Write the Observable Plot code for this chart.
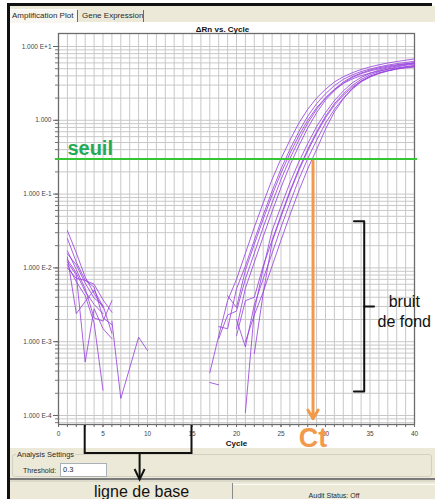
<!DOCTYPE html>
<html>
<head>
<meta charset="utf-8">
<script src="https://cdn.jsdelivr.net/npm/d3@7"></script>
<script src="https://cdn.jsdelivr.net/npm/@observablehq/plot@0.6"></script>
<style>
  html, body { margin: 0; padding: 0; }
  body { width: 435px; height: 499px; position: relative; overflow: hidden; background: #fff;
         font-family: "Liberation Sans", Arial, sans-serif; color: #222; }
  .a { position: absolute; }
  .ui { font-size: 8px; line-height: 8px; white-space: nowrap; color: #2a2a2a; }
  #chart { position: absolute; left: 0; top: 0; z-index: 5; }
</style>
</head>
<body>
<!-- window chrome -->
<div class="a" style="left:7px;top:3px;width:425px;height:3px;background:#111"></div>
<div class="a" style="left:7px;top:3px;width:3px;height:496px;background:#111"></div>
<div class="a" style="left:10px;top:6px;width:425px;height:16px;background:#ece9d8"></div>
<div class="a" style="left:10px;top:9px;width:67px;height:13px;background:#f7f6f0;border-top:1px solid #fff"></div>
<div class="a ui" style="left:12px;top:12px;">Amplification Plot</div>
<div class="a" style="left:77px;top:10px;width:1px;height:12px;background:#6a6a6a"></div>
<div class="a ui" style="left:82px;top:12px;">Gene Expression</div>
<div class="a" style="left:143px;top:10px;width:1px;height:12px;background:#6a6a6a"></div>
<div class="a" style="left:10px;top:448px;width:425px;height:51px;background:#ece9d8"></div>
<div class="a" style="left:12px;top:454px;width:418px;height:21px;border:1px solid #d2d0c0;border-radius:3px"></div>
<div class="a ui" style="left:16px;top:451px;font-size:7.5px;background:#ece9d8;padding:0 1px">Analysis Settings</div>
<div class="a ui" style="left:23px;top:467px;font-size:7px;">Threshold:</div>
<div class="a ui" style="left:60px;top:463px;width:43px;height:12px;background:#fff;border:1px solid #a9b0b6;font-size:7.5px;line-height:12px;padding-left:2px">0.3</div>
<div class="a" style="left:10px;top:478px;width:425px;height:2px;background:#7a7a7a"></div>
<div class="a" style="left:10px;top:480px;width:425px;height:2px;background:#dcdacb"></div>
<div class="a" style="left:232px;top:483px;width:1px;height:16px;background:#8a8a8a"></div>
<div class="a" style="left:233px;top:484px;width:202px;height:1px;background:#fbfbf7"></div>
<div class="a ui" style="left:233px;width:202px;top:492px;font-size:7px;text-align:center">Audit Status: Off</div>

<div id="chart"></div>

<script>
// ---- data ----
const cycles = [1,2,3,4,5,6,7,8,9,10,11,12,13,14,15,16,17,18,19,20,21,22,23,24,25,26,27,28,29,30,31,32,33,34,35,36,37,38,39,40];

const curve1 = [0.032,0.016,0.0075,0.0045,0.0029, null,null,null,null,null,null,null,null,null,null,null,
  0.00038,0.0012,0.0036,0.0070,0.0158,0.0355,0.0759,0.158,0.302,0.537,0.912,1.41,2.00,2.63,3.31,3.89,4.40,4.88,5.28,5.65,5.98,6.25,6.52,6.78];
const curve2 = [0.025,0.012,0.0068,0.0060,0.0037,0.0025, null,null,null,null,null,null,null,null,null,null,null,
  0.0016,0.0015,0.0052,0.0106,0.0237,0.0519,0.110,0.219,0.403,0.700,1.135,1.68,2.29,2.95,3.59,4.12,4.57,4.95,5.30,5.60,5.85,6.08,6.30];
const curve3 = [0.017,0.0095,0.0052,0.0021,0.0019,0.0036, null,null,null,null,null,null,null,null,null,null,null,null,
  0.0042,0.0029,0.0093,0.0209,0.0457,0.0968,0.193,0.355,0.616,1.00,1.48,2.02,2.60,3.16,3.63,4.02,4.36,4.65,4.90,5.12,5.33,5.52];
const curve4 = [0.014,0.0024,0.0035,0.0050,0.0030, null,null,null,null,null,null,null,null,null,null,null,null,
  0.0011,0.0023,0.0026,0.00708,0.0158,0.0355,0.0759,0.158,0.302,0.537,0.912,1.41,2.00,2.63,3.31,3.89,4.37,4.79,5.13,5.43,5.66,5.85,6.02];
const curve5 = [0.012,0.0080,0.00053,0.0028,0.0015,0.0011, null,null,null,null,null,null,null,null,null,null,
  0.00028,0.00026,null,0.0015,0.0053,0.0119,0.0265,0.0581,0.123,0.245,0.451,0.784,1.27,1.88,2.52,3.18,3.80,4.28,4.66,4.98,5.28,5.56,5.79,5.99];
const curve6 = [0.011,0.0065,0.0042,0.0018,0.00022, null,null,null,null,null,null,null,null,null,null,null,null,null,null,null,
  0.00011,0.0026,0.0098,0.0320,0.0683,0.142,0.272,0.483,0.821,1.27,1.85,2.50,3.21,3.81,4.33,4.79,5.13,5.43,5.69,5.89];
const curve7 = [0.010,0.0072,0.0068,0.0055,0.0021,0.0017, null,null,null,null,null,null,null,null,null,null,null,null,null,
  0.0012,0.0036,0.0040,0.0106,0.0237,0.0519,0.110,0.219,0.403,0.700,1.135,1.68,2.29,2.95,3.59,4.12,4.57,4.95,5.28,5.56,5.79];
const curve8 = [null,null,null,null,null, 0.0019,0.00017,0.00044,0.00115,0.00076, null,null,null,null,null,null,null,null,null,null,null,
  0.00069,0.0045,0.0225,0.0493,0.105,0.208,0.383,0.665,1.08,1.60,2.18,2.80,3.41,3.91,4.34,4.70,5.02,5.28,5.50];
const curve9 = [0.013,0.0085,0.0048,0.0032,0.0024, null,null,null,null,null,null,null,null,null,null,null,null,null,null,
  0.0020,0.00085,0.00316,0.00708,0.0158,0.0355,0.0759,0.158,0.302,0.537,0.912,1.41,2.00,2.63,3.31,3.85,4.30,4.65,4.95,5.20,5.40];
const curve10 = [0.0155,0.011,0.0062,0.0039,0.0031,0.0013, null,null,null,null,null,null,null,null,null,null,null,null,null,null,
  0.0010,0.0023,0.00473,0.0106,0.0237,0.0519,0.110,0.219,0.403,0.76,1.30,1.95,2.70,3.40,3.95,4.40,4.72,4.95,5.12,5.25];

const curves = [curve1, curve2, curve3, curve4, curve5, curve6, curve7, curve8, curve9, curve10];

const threshold = 0.3;
const ctCycle = 28.6;
const baselineRange = [3, 15];
const noiseBand = [2.12e-4, 0.043];
const xTicks = [0, 5, 10, 15, 20, 25, 30, 35, 40];
const yTicks = [1e-4, 1e-3, 1e-2, 1e-1, 1, 10];
const yTickLabels = ["1.000 E-4", "1.000 E-3", "1.000 E-2", "1.000 E-1", "1.000", "1.000 E+1"];
const yDomain = [7.55e-5, 15];
const xDomain = [0, 40];

// ---- derived tables ----
const rows = curves.flatMap((vals, k) =>
  vals.map((v, i) => ({cycle: cycles[i], value: v == null ? NaN : v, well: k})));
const minorY = [1e-5, 1e-4, 1e-3, 1e-2, 1e-1, 1, 10]
  .flatMap(d => [1,2,3,4,5,6,7,8,9].map(m => +(m * d).toPrecision(3)))
  .filter(v => v >= yDomain[0] && v <= yDomain[1]);
const gridXTicks = [0].concat(cycles);
const labelOf = new Map(yTicks.map((t, i) => [t, yTickLabels[i]]));

const purple = "#9a45de";
const green = "#34c634";
const greenText = "#22aa55";
const orange = "#f29a4c";
const bx = 34.35; // bracket column (cycle units)

const chart = Plot.plot({
  width: 435,
  height: 499,
  marginTop: 33,
  marginBottom: 75,
  marginLeft: 58,
  marginRight: 21,
  style: {background: "transparent", fontFamily: "'Liberation Sans', Arial, sans-serif", fontSize: "6.5px", color: "#333", overflow: "visible"},
  x: {domain: xDomain},
  y: {type: "log", domain: yDomain},
  marks: [
    Plot.gridX({ticks: gridXTicks, stroke: "#c8c8c8", strokeOpacity: 1}),
    Plot.gridY({ticks: minorY, stroke: "#c8c8c8", strokeOpacity: 1}),
    Plot.axisX({ticks: cycles, tickSize: 3, tickFormat: () => "", label: null, stroke: "#666"}),
    Plot.axisX({ticks: xTicks, tickSize: 3, tickPadding: 4, label: null, stroke: "#666", fill: "#444", fontSize: 6.5}),
    Plot.axisY({ticks: minorY, tickSize: 3, tickFormat: () => "", label: null, stroke: "#777"}),
    Plot.axisY({ticks: yTicks, tickSize: 5, tickPadding: 2, tickFormat: v => labelOf.get(v) ?? "", label: null, stroke: "#666", fill: "#444", fontSize: 6.5}),
    Plot.frame({stroke: "#6c6c6c", strokeWidth: 1.3}),
    Plot.line(rows, {x: "cycle", y: "value", z: "well", stroke: purple, strokeWidth: 1, strokeOpacity: 0.85}),
    Plot.ruleY([threshold], {x1: xDomain[0] - 0.35, x2: xDomain[1] + 0.35, stroke: green, strokeWidth: 2}),
    Plot.text(["seuil"], {x: 1.0, y: threshold, text: d => d, textAnchor: "start", lineAnchor: "bottom", dy: -3.5,
      fontSize: 20, fontWeight: "bold", fill: greenText}),
    Plot.arrow([ctCycle], {x1: d => d, x2: d => d, y1: threshold * 0.93, y2: yDomain[0] * 1.2,
      stroke: orange, strokeWidth: 3, headLength: 5, headAngle: 62}),
    Plot.text(["Ct"], {x: ctCycle, y: yDomain[0], text: d => d, lineAnchor: "bottom", dy: 22,
      fontSize: 27, fontWeight: "bold", fill: orange}),
    Plot.line([[bx - 1.15, noiseBand[1]], [bx, noiseBand[1]], [bx, noiseBand[0]], [bx - 1.15, noiseBand[0]]],
      {x: d => d[0], y: d => d[1], stroke: "#111", strokeWidth: 2}),
    Plot.line([[bx, 3e-3], [bx + 1.1, 3e-3]], {x: d => d[0], y: d => d[1], stroke: "#111", strokeWidth: 2}),
    Plot.text(["bruit\nde fond"], {x: 38.85, y: 3e-3, text: d => d, lineAnchor: "bottom", dy: 21, lineHeight: 1.25,
      fontSize: 16, fill: "#111", fontFamily: "'Liberation Sans', Arial, sans-serif"}),
    Plot.text(["ΔRn vs. Cycle"], {frameAnchor: "top", text: d => d, lineAnchor: "bottom", dx: -14, dy: -2,
      fontSize: 8, fontWeight: "bold", fill: "#111"}),
    Plot.text(["Cycle"], {frameAnchor: "bottom", text: d => d, lineAnchor: "bottom", dy: 21.5,
      fontSize: 8, fontWeight: "bold", fill: "#111"})
  ]
});

document.getElementById("chart").appendChild(chart);

// baseline bracket below the axis, placed through the plot's scales
const sx = chart.scale("x"), sy = chart.scale("y");
const xb0 = sx.apply(baselineRange[0]), xb1 = sx.apply(baselineRange[1]);
const yb = sy.apply(yDomain[0]);
const xm = (xb0 + xb1) / 2 + 1.5;
const svg = d3.select(chart);
const g = svg.append("g").attr("fill", "none").attr("stroke", "#111").attr("stroke-width", 2);
g.append("path").attr("d", `M${xb0},${yb + 1}V${yb + 29}H${xb1}V${yb + 1}`);
g.append("path").attr("d", `M${xm},${yb + 29}V${yb + 55}`);
g.append("path").attr("d", `M${xm - 5},${yb + 45}L${xm},${yb + 55.5}L${xm + 5},${yb + 45}`);
svg.append("text").attr("x", xm + 2).attr("y", yb + 72.5).attr("text-anchor", "middle")
  .attr("font-size", 16).attr("fill", "#111").attr("font-family", "'Liberation Sans', Arial, sans-serif")
  .text("ligne de base");
</script>
</body>
</html>
